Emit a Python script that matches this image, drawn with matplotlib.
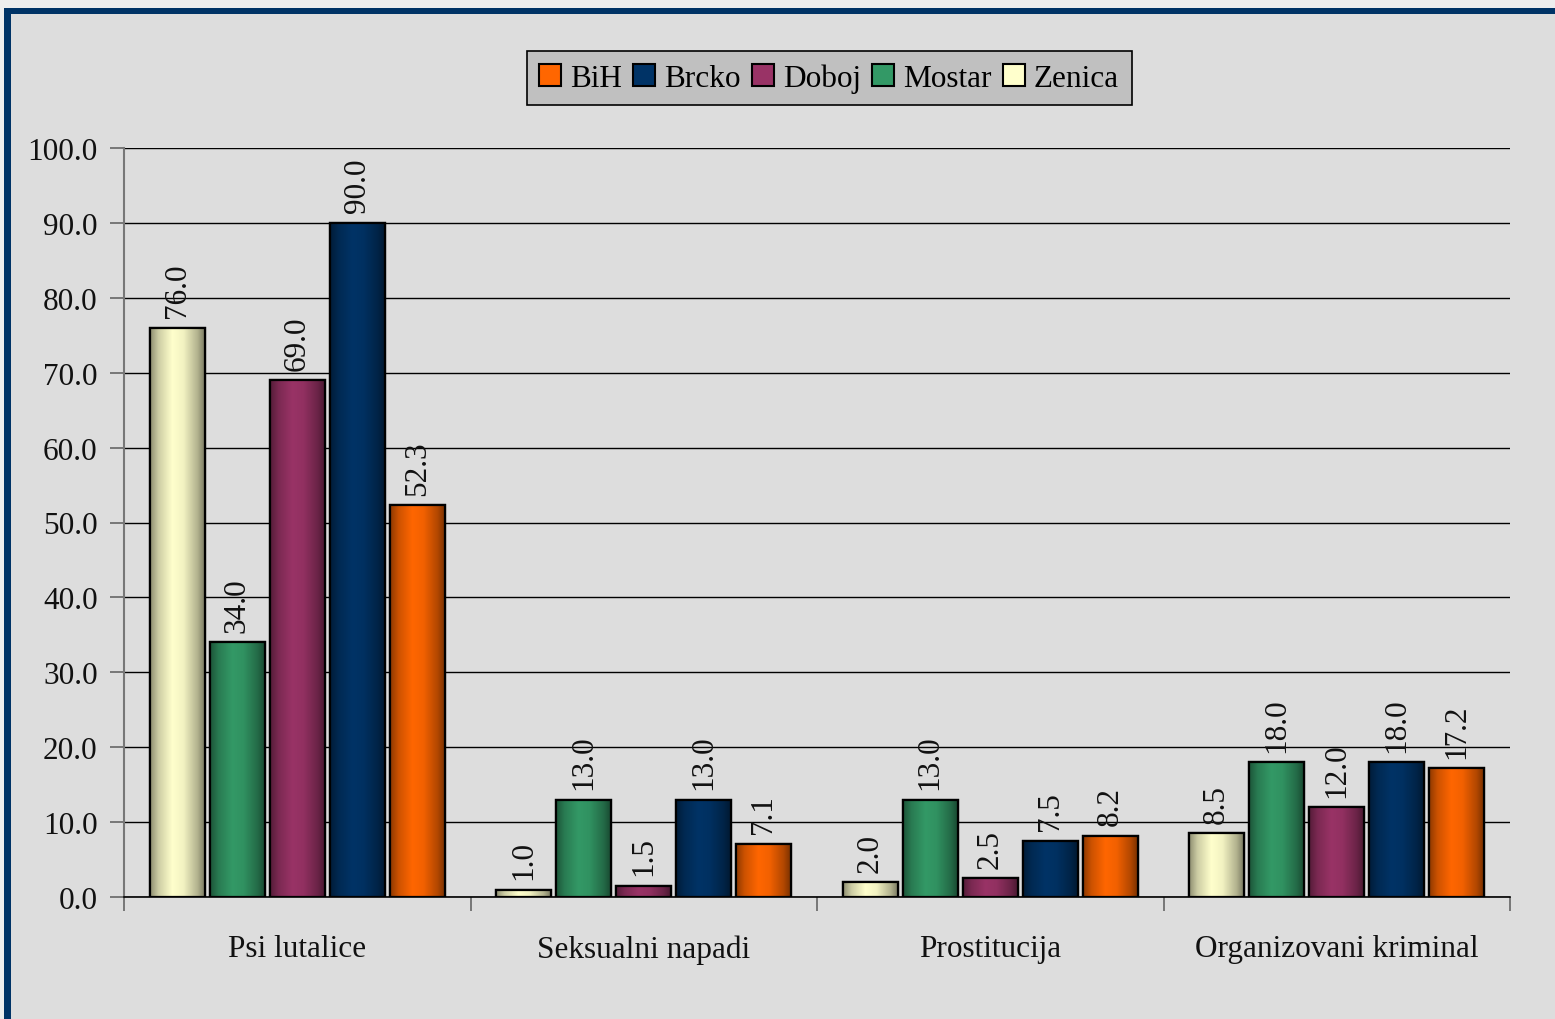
import numpy as np
import matplotlib
matplotlib.use("Agg")
import matplotlib.pyplot as plt
from matplotlib.patches import Patch, Rectangle
from matplotlib.colors import to_rgb
from matplotlib.ticker import FixedLocator, FormatStrFormatter

categories = ["Psi lutalice", "Seksualni napadi", "Prostitucija", "Organizovani kriminal"]
series_names = ["Zenica", "Mostar", "Doboj", "Brcko", "BiH"]
zenica = [76.0, 1.0, 2.0, 8.5]
mostar = [34.0, 13.0, 13.0, 18.0]
doboj = [69.0, 1.5, 2.5, 12.0]
brcko = [90.0, 13.0, 7.5, 18.0]
bih = [52.3, 7.1, 8.2, 17.2]
series_values = [zenica, mostar, doboj, brcko, bih]
colors = ["#FFFFCC", "#339966", "#993366", "#003366", "#FF6600"]
legend_order = ["BiH", "Brcko", "Doboj", "Mostar", "Zenica"]
yticks = [0, 10, 20, 30, 40, 50, 60, 70, 80, 90, 100]

FONT = ["Liberation Serif", "DejaVu Serif"]
plt.rcParams["font.family"] = FONT
FS = 22.5
BG = "#DDDDDD"

fig = plt.figure(figsize=(15.55, 10.20), dpi=100, facecolor=BG)
ax = fig.add_axes([124/1555, 1 - 898/1020, (1510-124)/1555, (898-149)/1020])
ax.set_facecolor(BG)

n = len(series_names)
slot = 0.1732
bw = 0.159
x = np.arange(len(categories))

def grad_cmap(base):
    r = np.array(to_rgb(base))
    t = np.linspace(0, 1, 256)
    f = np.interp(t, [0, 0.15, 0.4, 0.6, 0.85, 1.0], [0.55, 0.8, 1.0, 0.95, 0.7, 0.45])
    img = np.clip(r[None, :] * f[:, None], 0, 1)
    return img[None, :, :]

for i, (name, vals, c) in enumerate(zip(series_names, series_values, colors)):
    pos = x + (i - (n - 1) / 2) * slot
    bars = ax.bar(pos, vals, width=bw, color=c, edgecolor="black", linewidth=1.6, zorder=3)
    img = grad_cmap(c)
    for b, v in zip(bars, vals):
        x0, w, h = b.get_x(), b.get_width(), b.get_height()
        im = ax.imshow(img, extent=[x0, x0 + w, 0, h], aspect="auto", zorder=3.5,
                       interpolation="bilinear")
        im.set_clip_path(b)
        edge = Rectangle((x0, 0), w, h, fill=False, edgecolor="black", linewidth=1.6, zorder=4)
        ax.add_patch(edge)
        ax.annotate(f"{v:.1f}", (b.get_x() + w / 2, h), xytext=(0, 7.5), textcoords="offset points",
                    rotation=90, ha="center", va="bottom", fontsize=FS, color="#111111", zorder=5)

ax.set_xlim(-0.5, len(categories) - 0.5)
ax.set_ylim(0, 100)
ax.set_yticks(yticks)
ax.yaxis.set_major_formatter(FormatStrFormatter("%.1f"))
ax.grid(axis="y", color="black", linewidth=1.0, zorder=1)
ax.set_axisbelow(True)

ax.set_xticks(x)
ax.set_xticklabels(categories, fontsize=FS, color="#111111")
ax.tick_params(axis="x", which="major", length=0, pad=27)
ax.xaxis.set_minor_locator(FixedLocator(np.arange(-0.5, len(categories), 1.0)))
ax.tick_params(axis="x", which="minor", length=10, width=1.2, color="#666666", direction="out")
ax.tick_params(axis="y", length=10, width=1.2, color="#666666", labelsize=FS, labelcolor="#111111", pad=9)

for s in ["top", "right"]:
    ax.spines[s].set_visible(False)
ax.spines["left"].set_color("#777777")
ax.spines["left"].set_linewidth(1.5)
ax.spines["bottom"].set_color("black")
ax.spines["bottom"].set_linewidth(1.2)

handles = {nm: Patch(facecolor=c, edgecolor="black", linewidth=1.5) for nm, c in zip(series_names, colors)}
leg = fig.legend([handles[nm] for nm in legend_order], legend_order, loc="center",
                 bbox_to_anchor=(829/1555, 1 - 79/1020), ncol=5, fontsize=FS,
                 handlelength=0.7, handleheight=0.7, handletextpad=0.3, columnspacing=0.35,
                 frameon=True, fancybox=False, borderpad=0.4, borderaxespad=0)
leg._legend_box.sep = 0
fr = leg.get_frame()
fr.set_facecolor("#C0C0C0")
fr.set_edgecolor("black")
fr.set_linewidth(1.2)
fr.set_alpha(1)

# outer strip and dark blue frame
fig.patches.append(Rectangle((0, 0), 4/1555, 1, transform=fig.transFigure, facecolor="#EEEEEE",
                             edgecolor="none", zorder=0))
fig.patches.append(Rectangle((0, 1 - 9/1020), 1, 9/1020, transform=fig.transFigure, facecolor="#EEEEEE",
                             edgecolor="none", zorder=0))
fig.patches.append(Rectangle((4/1555, 1 - 15/1020), 1, 6/1020, transform=fig.transFigure,
                             facecolor="#003366", edgecolor="none", zorder=1))
fig.patches.append(Rectangle((4/1555, -0.01), 7/1555, 1 - 9/1020 + 0.01, transform=fig.transFigure,
                             facecolor="#003366", edgecolor="none", zorder=1))

fig.savefig("out.png", dpi=100, facecolor=BG)
